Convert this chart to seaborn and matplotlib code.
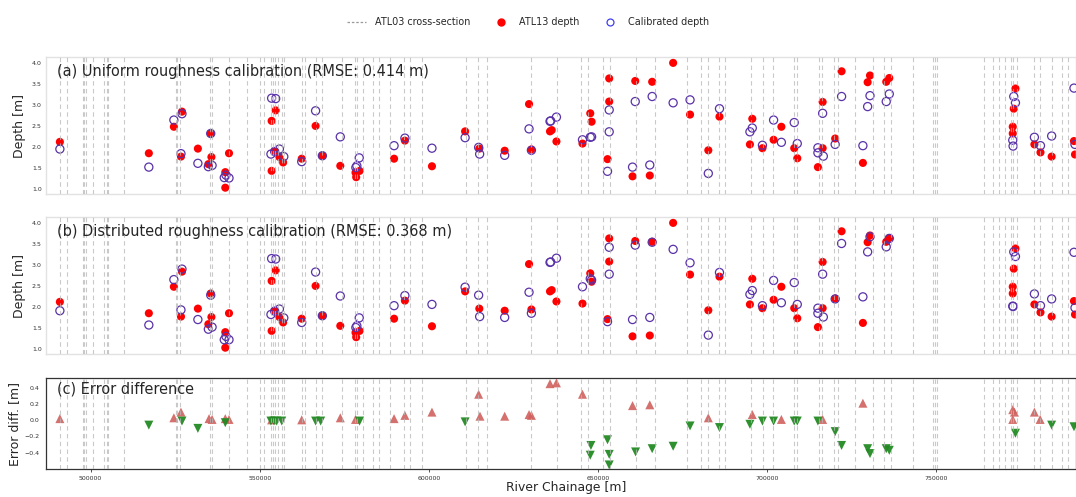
import matplotlib
matplotlib.use("Agg")
import numpy as np
import matplotlib.pyplot as plt
from matplotlib.lines import Line2D
import seaborn as sns

# ---------------------------------------------------------------------------
# Data (chainage in metres, depth in metres)
# ---------------------------------------------------------------------------
cross_sections = [
    490900, 492900, 497600, 498100, 498600, 500600, 504000, 504700, 505200,
    509900, 525100, 525500, 526500, 535400, 535900, 540800, 546300, 550000,
    551100, 553300, 554000, 554600, 555300, 556500, 557300, 562400, 563400,
    566700, 568500, 574400, 578200, 578700, 580400, 583600, 585100, 588500,
    592500, 594500, 598100, 610900, 614500, 617200, 630200, 637900, 645100,
    646900, 651400, 653600, 661100, 666700, 676300, 680500, 682500, 685700,
    687500, 695100, 698800, 701800, 707900, 708900, 715300, 716300, 719700,
    721000, 726100, 731400, 734500, 736700, 743200, 749100, 749600, 750100,
    764100, 766700, 768600, 770200, 772000, 772800, 773800, 778900, 780700,
    784200, 787300, 788800,
]

atl13_chainage = [
    490900, 517200, 524600, 527000, 526700, 531700, 534800, 535500, 535700,
    539800, 539800, 540900, 553500, 554700, 553500, 554400, 555800, 556900,
    562400, 566500, 568500, 573800, 578300, 578500, 579500, 589700, 592900,
    600900, 610700, 614900, 622400, 629600, 630300, 635800, 636300, 637700,
    645400, 647700, 648100, 653300, 653300, 652800, 660200, 661000, 665300,
    666000, 672200, 677200, 682600, 685900, 695600, 694900, 698600, 701900,
    704200, 708000, 708900, 715000, 716400, 716400, 720100, 722000, 730400,
    729700, 728300, 736100, 735200, 773400, 772900, 772600, 772600, 779000,
    780800, 784100, 790700, 791000,
]
atl13_depth = [
    2.12, 1.85, 2.48, 2.84, 1.77, 1.96, 1.59, 2.32, 1.76,
    1.40, 1.03, 1.85, 2.62, 2.87, 1.43, 1.90, 1.76, 1.63,
    1.72, 2.50, 1.79, 1.55, 1.39, 1.28, 1.43, 1.72, 2.15,
    1.54, 2.37, 1.96, 1.91, 3.02, 1.94, 2.37, 2.40, 2.13,
    2.08, 2.80, 2.60, 3.63, 3.08, 1.71, 1.30, 3.57, 1.32,
    3.55, 4.00, 2.77, 1.92, 2.72, 2.67, 2.06, 1.97, 2.17,
    2.48, 1.97, 1.73, 1.52, 3.07, 1.97, 2.20, 3.80, 3.70,
    3.54, 1.62, 3.64, 3.55, 3.39, 2.91, 2.48, 2.32, 2.06,
    1.87, 1.77, 2.14, 1.82,
]

calib_chainage = [
    490900, 517200, 524600, 527000, 526700, 531700, 534800, 535900, 535500,
    539500, 540900, 540000, 553500, 554700, 553300, 554400, 555800, 557100,
    562400, 566500, 568500, 573800, 578400, 578700, 579400, 589700, 592900,
    600900, 610700, 614700, 615000, 622400, 629600, 630300, 635800, 636000,
    637700, 645400, 647700, 648100, 653300, 653300, 652800, 660200, 661000,
    665300, 666000, 672200, 677200, 682600, 685900, 695600, 694900, 698600,
    701900, 704200, 708000, 708900, 715000, 715000, 716400, 716600, 720100,
    722000, 730400, 729700, 728300, 736100, 735200, 772900, 773400, 772600,
    772700, 779000, 780800, 784100, 790700, 791000,
]
uniform_depth = [
    1.95, 1.52, 2.64, 2.79, 1.84, 1.61, 1.53, 1.56, 2.32,
    1.27, 1.26, 1.33, 3.16, 3.15, 1.83, 1.89, 1.95, 1.77,
    1.65, 2.86, 1.79, 2.24, 1.51, 1.55, 1.74, 2.03, 2.21,
    1.97, 2.22, 1.99, 1.83, 1.80, 2.43, 1.92, 2.61, 2.62,
    2.71, 2.17, 2.23, 2.24, 2.88, 2.36, 1.42, 1.52, 3.08,
    1.57, 3.20, 3.05, 3.12, 1.37, 2.91, 2.45, 2.36, 2.04,
    2.64, 2.11, 2.58, 2.08, 1.98, 1.86, 2.80, 1.78, 2.06,
    3.20, 3.22, 2.96, 2.03, 3.26, 3.08, 3.20, 3.05, 2.16,
    2.02, 2.23, 2.03, 2.26, 3.40, 2.06,
]
distributed_depth = [
    1.91, 1.57, 2.65, 2.90, 1.93, 1.70, 1.47, 1.52, 2.28,
    1.22, 1.22, 1.30, 3.15, 3.14, 1.82, 1.90, 1.95, 1.74,
    1.63, 2.83, 1.79, 2.26, 1.51, 1.55, 1.74, 2.03, 2.27,
    2.06, 2.47, 2.28, 1.77, 1.75, 2.35, 1.85, 3.06, 3.07,
    3.16, 2.48, 2.67, 2.64, 3.42, 2.78, 1.65, 1.70, 3.47,
    1.75, 3.54, 3.37, 3.05, 1.33, 2.82, 2.39, 2.30, 2.03,
    2.63, 2.10, 2.58, 2.06, 1.97, 1.85, 2.78, 1.76, 2.19,
    3.51, 3.67, 3.31, 2.24, 3.63, 3.43, 3.31, 3.20, 2.02,
    2.01, 2.31, 2.03, 2.19, 3.30, 1.98,
]

diff_chainage = [
    490900, 517200, 524600, 526700, 527000, 531700, 535000, 535900, 539800,
    539800, 540900, 553300, 553500, 554200, 555000, 556500, 562400, 566500,
    568000, 573800, 578300, 579500, 589700, 592900, 600900, 610700, 614700,
    615100, 622400, 629600, 630300, 635800, 637700, 645400, 647900, 647700,
    652800, 653300, 653300, 660200, 661100, 665300, 666000, 672200, 677200,
    682600, 685900, 695600, 694900, 698600, 701900, 704200, 708000, 708900,
    715000, 716400, 720100, 722000, 728300, 729700, 730400, 735200, 736100,
    772600, 773100, 772600, 773400, 779000, 780700, 784100, 790700,
]
error_diff = [
    0.02, -0.06, 0.03, 0.10, -0.01, -0.10, 0.02, 0.01, 0.02,
    -0.03, 0.01, -0.01, 0.005, -0.01, -0.01, -0.01, 0.005, -0.01,
    -0.01, 0.03, 0.01, -0.01, 0.02, 0.06, 0.10, -0.02, 0.32,
    0.05, 0.05, 0.07, 0.06, 0.45, 0.46, 0.32, -0.31, -0.43,
    -0.24, -0.42, -0.55, 0.18, -0.39, 0.19, -0.35, -0.32, -0.07,
    0.03, -0.09, 0.07, -0.05, -0.01, -0.01, 0.01, -0.01, -0.01,
    -0.01, 0.01, -0.14, -0.31, 0.21, -0.35, -0.41, -0.35, -0.37,
    0.13, 0.10, 0.01, -0.16, 0.10, 0.01, -0.06, -0.08,
]

rmse_uniform = 0.414
rmse_distributed = 0.368

x_ticks = [500000, 550000, 600000, 650000, 700000, 750000]
depth_ticks = [1.0, 1.5, 2.0, 2.5, 3.0, 3.5, 4.0]
diff_ticks = [-0.4, -0.2, 0.0, 0.2, 0.4]

# ---------------------------------------------------------------------------
# Styling
# ---------------------------------------------------------------------------
sns.set_style("white")
plt.rcParams["font.family"] = ["DejaVu Sans"]

RED = "#ff0000"
PURPLE = "#5a32a8"
LEGEND_BLUE = "#3f3ff0"
UP = "#d0605d"
DOWN = "#238a23"
XSEC = "#b8b8b8"

W, H = 1076, 497
fig = plt.figure(figsize=(W / 100, H / 100), dpi=100)


def frac_axes(left, top, right, bottom):
    return fig.add_axes([left / W, 1 - bottom / H, (right - left) / W, (bottom - top) / H])


ax_a = frac_axes(46, 57, 1076, 194)
ax_b = frac_axes(46, 217, 1076, 354)
ax_c = frac_axes(46, 378, 1076, 469)

xlim = (486800, 791300)


def draw_sections(ax):
    ax.vlines(cross_sections, 0, 1, transform=ax.get_xaxis_transform(),
              colors=XSEC, linestyles=(0, (4, 3)), linewidth=0.8,
              alpha=0.75, zorder=4)


def depth_panel(ax, calib, title):
    sns.scatterplot(x=atl13_chainage, y=atl13_depth, ax=ax, color=RED,
                    s=34, edgecolor="none", linewidth=0, zorder=2)
    sns.scatterplot(x=calib_chainage, y=calib, ax=ax, color=PURPLE,
                    facecolor="none", edgecolor=PURPLE, s=34,
                    linewidth=0.9, zorder=3)
    draw_sections(ax)
    ax.set_xlim(*xlim)
    ax.set_ylim(0.88, 4.14)
    ax.set_yticks(depth_ticks)
    ax.set_yticklabels([f"{t:.1f}" for t in depth_ticks])
    ax.set_xticks([])
    ax.tick_params(axis="y", labelsize=4.5, length=0, pad=3, colors="#333333")
    ax.set_ylabel("Depth [m]", fontsize=9)
    ax.yaxis.set_label_coords(-0.019, 0.5)
    for sp in ax.spines.values():
        sp.set_color("#e2e2e2")
        sp.set_linewidth(1.0)
    ax.text(0.011, 0.895, title, transform=ax.transAxes, fontsize=10.45,
            va="center", ha="left", zorder=6)


depth_panel(ax_a, uniform_depth,
            f"(a) Uniform roughness calibration (RMSE: {rmse_uniform:.3f} m)")
depth_panel(ax_b, distributed_depth,
            f"(b) Distributed roughness calibration (RMSE: {rmse_distributed:.3f} m)")

# Error difference panel: up = distributed worse, down = distributed better
diff_x = np.array(diff_chainage)
diff_y = np.array(error_diff)
worse = diff_y > 0
sns.scatterplot(x=diff_x[worse], y=diff_y[worse], ax=ax_c, marker="^",
                color=UP, s=42, edgecolor="none", linewidth=0, alpha=0.9, zorder=2)
sns.scatterplot(x=diff_x[~worse], y=diff_y[~worse], ax=ax_c, marker="v",
                color=DOWN, s=42, edgecolor="none", linewidth=0, alpha=0.95, zorder=2)
draw_sections(ax_c)
ax_c.set_xlim(*xlim)
ax_c.set_ylim(-0.6, 0.52)
ax_c.set_yticks(diff_ticks)
ax_c.set_yticklabels([f"{t:.1f}".replace("-", "\u2212") for t in diff_ticks])
ax_c.set_xticks(x_ticks)
ax_c.set_xticklabels([str(t) for t in x_ticks])
ax_c.tick_params(axis="both", labelsize=4.5, length=2, width=0.6, pad=3,
                 colors="#333333", bottom=True, left=False)
for sp in ax_c.spines.values():
    sp.set_color("#333333")
    sp.set_linewidth(0.9)
ax_c.set_ylabel("Error diff. [m]", fontsize=9)
ax_c.yaxis.set_label_coords(-0.024, 0.5)
ax_c.set_xlabel("River Chainage [m]", fontsize=8.9)
ax_c.xaxis.set_label_coords(0.505, -0.135)
ax_c.text(0.011, 0.875, "(c) Error difference", transform=ax_c.transAxes,
          fontsize=10.45, va="center", ha="left", zorder=6)

# Shared legend
handles = [
    Line2D([], [], color="#999999", linestyle=(0, (2, 1.5)), linewidth=0.9),
    Line2D([], [], marker="o", linestyle="none", markerfacecolor=RED,
           markeredgecolor=RED, markersize=5),
    Line2D([], [], marker="o", linestyle="none", markerfacecolor="none",
           markeredgecolor=LEGEND_BLUE, markeredgewidth=0.9, markersize=5),
]
labels = ["ATL03 cross-section", "ATL13 depth", "Calibrated depth"]
fig.legend(handles, labels, loc="center", bbox_to_anchor=(528 / W, 1 - 22 / H),
           ncol=3, frameon=False, fontsize=6.9, columnspacing=2.2,
           handlelength=2.0, handletextpad=0.9, borderpad=0.2)

fig.savefig("out.png", dpi=100)
